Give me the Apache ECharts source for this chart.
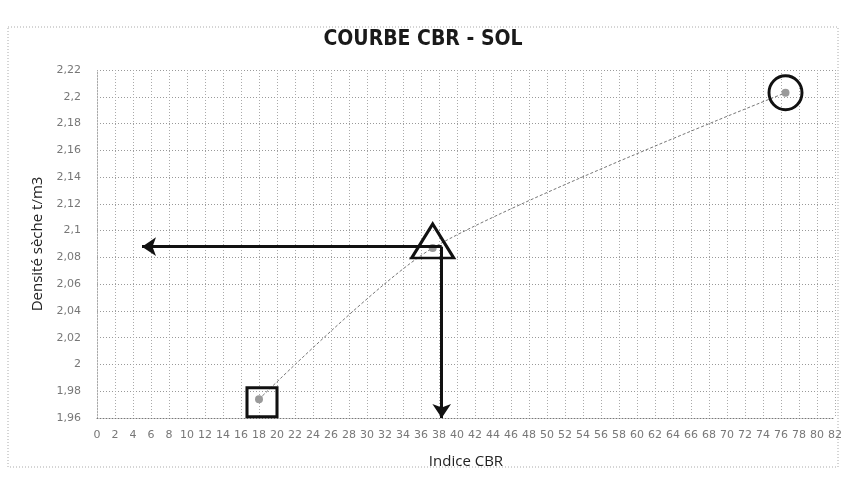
<!DOCTYPE html>
<html>
<head>
<meta charset="utf-8">
<script src="https://cdn.jsdelivr.net/npm/echarts@6/dist/echarts.min.js"></script>
<style>
  html, body { margin: 0; padding: 0; background: #fff; }
  #chart { width: 846px; height: 490px; }
</style>
</head>
<body>
<div id="chart"></div>
<script>
// ---- data ----
const cbrIndex = [18, 37.3, 76.5];
const dryDensity = [1.974, 2.087, 2.203];
const xTickMin = 0, xTickMax = 82, xTickStep = 2;
const yTickMin = 1.96, yTickMax = 2.22, yTickStep = 0.02;
// reading arrows (read CBR value / density value)
const readCBR = 38.3;
const readDensity = 2.088;
const readLeftEnd = 5;

const points = cbrIndex.map((x, i) => [x, dryDensity[i]]);

const fmtY = v => parseFloat(v.toFixed(2)).toString().replace('.', ',');

const chart = echarts.init(document.getElementById('chart'));
chart.setOption({
  backgroundColor: '#ffffff',
  animation: false,
  title: {
    text: 'COURBE CBR - SOL',
    left: 'center',
    top: 24,
    textStyle: {
      fontFamily: '"Liberation Sans Narrow", "DejaVu Sans Condensed", sans-serif',
      fontWeight: 'bold',
      fontSize: 21,
      color: '#1a1a1a'
    }
  },
  graphic: [{
    type: 'rect',
    shape: { x: 8, y: 27, width: 830, height: 440 },
    style: { fill: 'none', stroke: '#aaa', lineWidth: 1, lineDash: [1, 2] },
    silent: true,
    z: -10
  }],
  grid: { left: 97, right: 11, top: 70, bottom: 72 },
  xAxis: {
    type: 'value',
    min: xTickMin, max: xTickMax, interval: xTickStep,
    name: 'Indice CBR',
    nameLocation: 'middle',
    nameGap: 36,
    nameTextStyle: { fontSize: 15, color: '#222', fontFamily: '"Open Sans", sans-serif' },
    axisLine: { show: true, lineStyle: { color: '#777', type: [1, 2], width: 1 } },
    axisTick: { show: false },
    axisLabel: { fontSize: 11, color: '#777', margin: 12, fontFamily: '"DejaVu Sans", sans-serif' },
    splitLine: { show: true, lineStyle: { color: '#aaa', type: [1, 2], width: 1 } }
  },
  yAxis: {
    type: 'value',
    min: yTickMin, max: yTickMax, interval: yTickStep,
    name: 'Densité sèche t/m3',
    nameLocation: 'middle',
    nameGap: 50,
    nameRotate: 90,
    nameTextStyle: { fontSize: 15, color: '#222', fontFamily: '"Open Sans", sans-serif' },
    axisLine: { show: true, lineStyle: { color: '#aaa', type: [1, 2] } },
    axisTick: { show: false },
    axisLabel: { fontSize: 11, color: '#777', margin: 16, formatter: fmtY, fontFamily: '"DejaVu Sans", sans-serif' },
    splitLine: { show: true, lineStyle: { color: '#999', type: [1, 2], width: 1 } }
  },
  series: [
    {
      type: 'line',
      data: points,
      smooth: 0.25,
      symbol: 'circle',
      symbolSize: 8,
      itemStyle: { color: '#9a9a9a' },
      lineStyle: { color: '#777', width: 1, type: [3, 2] },
      z: 3,
      markLine: {
        silent: true,
        symbol: ['none', 'arrow'],
        symbolSize: [14, 14],
        label: { show: false },
        lineStyle: { color: '#111', width: 3, type: 'solid' },
        data: [
          [{ coord: [readCBR, readDensity] }, { coord: [readLeftEnd, readDensity] }],
          [{ coord: [readCBR, readDensity] }, { coord: [readCBR, yTickMin] }]
        ]
      }
    },
    {
      type: 'scatter',
      silent: true,
      data: [points[0]],
      symbol: 'rect',
      symbolSize: [30, 29],
      symbolOffset: [3, 3],
      itemStyle: { color: 'none', borderColor: '#111', borderWidth: 3, opacity: 1 },
      z: 5
    },
    {
      type: 'scatter',
      silent: true,
      data: [points[1]],
      symbol: 'triangle',
      symbolSize: [42, 34],
      symbolOffset: [0, -7],
      itemStyle: { color: 'none', borderColor: '#111', borderWidth: 3, opacity: 1 },
      z: 5
    },
    {
      type: 'scatter',
      silent: true,
      data: [points[2]],
      symbol: 'circle',
      symbolSize: [33, 34],
      itemStyle: { color: 'none', borderColor: '#111', borderWidth: 3, opacity: 1 },
      z: 5
    }
  ]
});
</script>
</body>
</html>
